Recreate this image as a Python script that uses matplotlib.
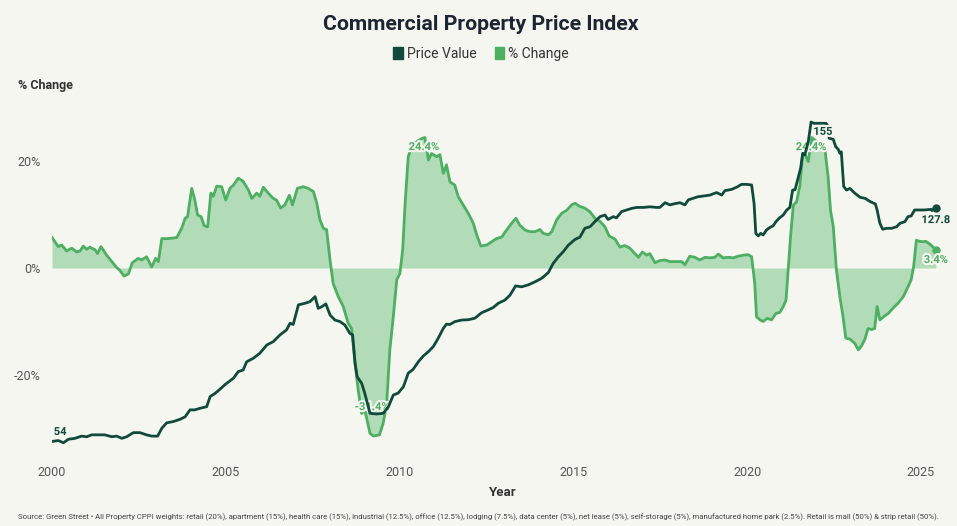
import matplotlib
matplotlib.use("Agg")
import matplotlib.pyplot as plt
import matplotlib.patheffects as pe
from matplotlib.patches import Patch

# % change, year-over-year
pct_years = [2000.00, 2000.18, 2000.28, 2000.42, 2000.57, 2000.71, 2000.81, 2000.90, 2001.00, 2001.09,
             2001.24, 2001.31, 2001.41, 2001.57, 2001.72, 2001.86, 2001.96, 2002.07, 2002.20, 2002.31,
             2002.48, 2002.58, 2002.72, 2002.87, 2002.98, 2003.06, 2003.16, 2003.35, 2003.59, 2003.73,
             2003.83, 2003.90, 2004.02, 2004.11, 2004.19, 2004.29, 2004.38, 2004.48, 2004.57, 2004.64,
             2004.74, 2004.88, 2005.00, 2005.12, 2005.22, 2005.36, 2005.50, 2005.65, 2005.75, 2005.89,
             2005.98, 2006.08, 2006.22, 2006.37, 2006.46, 2006.58, 2006.70, 2006.83, 2006.92, 2007.06,
             2007.23, 2007.37, 2007.52, 2007.62, 2007.71, 2007.81, 2007.90, 2008.00, 2008.09, 2008.24,
             2008.38, 2008.52, 2008.62, 2008.72, 2008.81, 2008.91, 2009.00, 2009.15, 2009.24, 2009.42,
             2009.53, 2009.63, 2009.72, 2009.82, 2009.92, 2010.01, 2010.09, 2010.16, 2010.25, 2010.35,
             2010.49, 2010.64, 2010.73, 2010.83, 2010.92, 2011.07, 2011.16, 2011.26, 2011.35, 2011.45,
             2011.59, 2011.69, 2011.83, 2011.98, 2012.12, 2012.22, 2012.34, 2012.51, 2012.65, 2012.79,
             2012.94, 2013.08, 2013.23, 2013.35, 2013.46, 2013.61, 2013.75, 2013.90, 2014.04, 2014.13,
             2014.28, 2014.38, 2014.52, 2014.66, 2014.81, 2014.95, 2015.05, 2015.19, 2015.33, 2015.48,
             2015.62, 2015.77, 2015.91, 2016.03, 2016.20, 2016.34, 2016.48, 2016.63, 2016.77, 2016.87,
             2016.99, 2017.11, 2017.20, 2017.35, 2017.49, 2017.64, 2017.78, 2017.97, 2018.12, 2018.21,
             2018.35, 2018.50, 2018.64, 2018.79, 2018.93, 2019.07, 2019.17, 2019.31, 2019.46, 2019.60,
             2019.74, 2019.89, 2020.03, 2020.13, 2020.22, 2020.27, 2020.37, 2020.46, 2020.58, 2020.70,
             2020.83, 2020.94, 2021.04, 2021.12, 2021.18, 2021.25, 2021.33, 2021.42, 2021.52, 2021.60,
             2021.67, 2021.76, 2021.86, 2021.95, 2022.09, 2022.24, 2022.33, 2022.40, 2022.48, 2022.57,
             2022.67, 2022.76, 2022.84, 2022.96, 2023.10, 2023.20, 2023.29, 2023.39, 2023.48, 2023.58,
             2023.67, 2023.74, 2023.82, 2023.93, 2024.06, 2024.20, 2024.34, 2024.49, 2024.63, 2024.72,
             2024.79, 2024.87, 2024.96, 2025.06, 2025.14, 2025.29, 2025.43]
pct_values = [5.7, 4.0, 4.3, 3.2, 3.7, 3.0, 3.2, 4.1, 3.5, 3.9,
              3.4, 2.7, 4.0, 2.4, 1.2, 0.1, -0.5, -1.5, -1.1, 1.0,
              1.8, 1.5, 2.1, 0.2, 1.8, 1.2, 5.5, 5.5, 5.7, 7.4,
              9.3, 9.6, 14.9, 12.7, 9.9, 9.6, 7.9, 7.7, 14.0, 13.4,
              15.3, 15.2, 12.7, 14.9, 15.5, 16.8, 16.2, 14.6, 13.0, 14.0,
              13.4, 15.1, 14.0, 13.0, 12.7, 11.2, 11.8, 13.6, 11.8, 14.9,
              15.2, 14.9, 14.3, 12.1, 9.0, 7.4, 7.2, 1.5, -2.9, -5.4,
              -7.2, -10.3, -11.3, -17.8, -22.8, -27.2, -26.5, -30.9, -31.4, -31.2,
              -29.0, -25.3, -15.3, -9.1, -2.2, -1.0, 3.4, 12.1, 20.8, 22.7,
              23.6, 24.2, 24.4, 20.2, 21.4, 20.8, 21.2, 17.7, 19.3, 16.1,
              15.5, 13.3, 11.8, 10.2, 8.4, 6.2, 4.1, 4.3, 4.9, 5.5,
              5.8, 7.1, 8.4, 9.3, 8.0, 7.1, 6.8, 6.8, 7.2, 6.5,
              6.2, 6.8, 9.0, 10.2, 10.8, 11.8, 12.1, 11.5, 11.2, 10.5,
              9.3, 8.7, 7.7, 6.0, 5.4, 3.9, 4.2, 3.7, 2.7, 2.0,
              3.0, 2.4, 2.7, 1.0, 1.4, 1.5, 1.2, 1.2, 1.2, 0.6,
              2.2, 2.0, 1.5, 2.0, 1.9, 2.0, 2.6, 1.9, 2.0, 1.9,
              2.2, 2.4, 2.5, 2.1, -2.9, -9.1, -9.7, -10.0, -9.4, -9.7,
              -8.5, -8.3, -7.2, -6.0, -0.4, 5.9, 11.8, 12.3, 15.5, 21.4,
              21.2, 19.9, 24.4, 23.9, 23.0, 22.1, 17.1, 10.8, 7.7, -0.4,
              -5.4, -9.1, -13.1, -13.3, -14.1, -15.3, -14.6, -13.3, -11.3, -11.5,
              -11.3, -7.2, -9.7, -9.1, -8.5, -7.5, -6.6, -5.4, -3.5, -2.2,
              0.2, 5.2, 5.0, 4.9, 5.0, 4.3, 3.4]

# price index value
price_years = [2000.00, 2000.18, 2000.33, 2000.47, 2000.66, 2000.85, 2001.00, 2001.14, 2001.33, 2001.52,
               2001.72, 2001.86, 2002.01, 2002.15, 2002.34, 2002.53, 2002.72, 2002.87, 2003.04, 2003.16,
               2003.30, 2003.49, 2003.68, 2003.83, 2003.97, 2004.11, 2004.26, 2004.45, 2004.55, 2004.69,
               2004.83, 2004.98, 2005.22, 2005.36, 2005.50, 2005.60, 2005.79, 2005.98, 2006.18, 2006.37,
               2006.56, 2006.75, 2006.85, 2006.94, 2007.09, 2007.28, 2007.42, 2007.57, 2007.66, 2007.76,
               2007.88, 2008.00, 2008.14, 2008.29, 2008.43, 2008.57, 2008.65, 2008.72, 2008.78, 2008.91,
               2009.00, 2009.15, 2009.34, 2009.53, 2009.68, 2009.82, 2009.96, 2010.11, 2010.25, 2010.39,
               2010.54, 2010.68, 2010.83, 2010.97, 2011.11, 2011.26, 2011.35, 2011.45, 2011.59, 2011.79,
               2011.98, 2012.17, 2012.36, 2012.55, 2012.70, 2012.84, 2013.03, 2013.18, 2013.34, 2013.51,
               2013.70, 2013.90, 2014.09, 2014.28, 2014.42, 2014.57, 2014.71, 2014.85, 2015.05, 2015.19,
               2015.33, 2015.48, 2015.62, 2015.77, 2015.91, 2016.00, 2016.15, 2016.24, 2016.39, 2016.53,
               2016.68, 2016.82, 2017.01, 2017.20, 2017.40, 2017.49, 2017.64, 2017.78, 2017.92, 2018.07,
               2018.21, 2018.31, 2018.45, 2018.59, 2018.74, 2018.93, 2019.12, 2019.27, 2019.36, 2019.55,
               2019.70, 2019.84, 2019.98, 2020.13, 2020.20, 2020.25, 2020.32, 2020.39, 2020.46, 2020.56,
               2020.66, 2020.75, 2020.83, 2020.92, 2021.04, 2021.14, 2021.23, 2021.31, 2021.38, 2021.44,
               2021.54, 2021.60, 2021.66, 2021.76, 2021.84, 2021.92, 2022.09, 2022.27, 2022.33, 2022.36,
               2022.48, 2022.55, 2022.62, 2022.67, 2022.71, 2022.78, 2022.86, 2022.96, 2023.10, 2023.25,
               2023.39, 2023.55, 2023.69, 2023.74, 2023.82, 2023.90, 2024.01, 2024.16, 2024.30, 2024.40,
               2024.54, 2024.63, 2024.72, 2024.82, 2024.97, 2025.11, 2025.29, 2025.32, 2025.43]
price_values = [54.0, 54.3, 53.6, 54.7, 55.0, 55.7, 55.5, 56.1, 56.1, 56.1,
                55.5, 55.7, 55.0, 55.5, 56.8, 56.8, 56.1, 55.7, 55.7, 58.2,
                59.9, 60.3, 61.0, 61.8, 64.0, 64.0, 64.5, 65.0, 68.2, 69.2,
                70.5, 72.0, 74.0, 76.1, 76.6, 79.2, 80.3, 81.9, 84.5, 85.6,
                87.7, 89.3, 91.4, 91.0, 97.2, 97.7, 98.2, 99.8, 96.1, 96.6,
                97.5, 94.0, 92.4, 91.9, 90.8, 88.2, 87.7, 78.7, 74.5, 72.4,
                69.2, 62.9, 62.7, 62.9, 65.0, 68.7, 69.3, 71.3, 75.6, 76.8,
                79.2, 81.0, 82.4, 84.0, 86.6, 89.8, 91.1, 91.0, 91.9, 92.4,
                92.5, 93.0, 94.7, 95.6, 96.4, 97.7, 98.7, 100.3, 103.2, 102.9,
                103.5, 104.5, 105.6, 107.4, 110.3, 112.4, 114.0, 116.0, 117.9, 118.6,
                121.4, 121.9, 123.5, 125.1, 125.6, 124.2, 125.1, 124.7, 126.7, 127.2,
                127.7, 128.0, 128.0, 128.2, 128.0, 128.0, 129.5, 128.8, 129.2, 129.5,
                128.8, 130.4, 130.9, 131.4, 131.6, 131.9, 132.7, 131.9, 133.3, 133.7,
                134.4, 135.3, 135.3, 135.1, 129.3, 119.8, 119.0, 119.8, 119.3, 120.9,
                121.7, 122.2, 123.5, 124.6, 125.6, 127.2, 128.0, 133.5, 133.6, 136.1,
                140.4, 145.1, 144.6, 148.8, 155.0, 154.6, 154.6, 154.6, 153.7, 149.9,
                149.5, 147.2, 146.4, 145.1, 145.6, 134.6, 133.5, 134.0, 132.5, 131.2,
                130.9, 129.8, 129.1, 127.2, 123.0, 121.1, 121.4, 121.4, 121.9, 123.0,
                123.5, 125.1, 125.3, 127.2, 127.2, 127.2, 127.4, 127.0, 127.8]

pct_ticks = [-20, 0, 20]
year_ticks = [2000, 2005, 2010, 2015, 2020, 2025]

bg = "#f6f6f0"
dark = "#0f4a3c"
green = "#4caf62"
fill_c = "#b2dbb7"
font = "Roboto"

fig = plt.figure(figsize=(9.57, 5.26), dpi=100, facecolor=bg)
W, H = 957, 526
x0, x1, y_top, y_bot = 52, 940, 95, 455
ax = fig.add_axes([x0 / W, 1 - y_bot / H, (x1 - x0) / W, (y_bot - y_top) / H])
ax.set_facecolor(bg)

ax.fill_between(pct_years, pct_values, 0, color=fill_c, lw=0)
ax.plot(pct_years, pct_values, color=green, lw=2, solid_joinstyle="round")
ax.set_ylim(-34.95, 32.34)
ax.set_xlim(2000, 2025.55)
ax.set_yticks(pct_ticks)
ax.set_yticklabels([f"{t}%" for t in pct_ticks])
ax.set_xticks(year_ticks)
ax.tick_params(length=0, labelsize=9, colors="#555555", pad=8)
for lab in ax.get_xticklabels() + ax.get_yticklabels():
    lab.set_fontfamily(font)
for s in ax.spines.values():
    s.set_visible(False)

ax2 = ax.twinx()
ax2.plot(price_years, price_values, color=dark, lw=2, solid_joinstyle="round")
ax2.set_ylim(49.73, 163.55)
ax2.set_yticks([])
for s in ax2.spines.values():
    s.set_visible(False)

halo = [pe.withStroke(linewidth=3, foreground=bg)]
ax2.plot(price_years[-1], price_values[-1], "o", color=dark, ms=5)
ax.plot(pct_years[-1], pct_values[-1], "o", color=green, ms=5)

ax2.text(2000.05, 57.0, "54", color=dark, fontsize=8, fontweight="bold", family=font,
         ha="left", va="center", path_effects=halo)
ax2.text(2022.18, 151.9, "155", color=dark, fontsize=8, fontweight="bold", family=font,
         ha="center", va="center", path_effects=halo)
ax2.text(2025.43, 124.0, "127.8", color=dark, fontsize=8, fontweight="bold", family=font,
         ha="center", va="center", path_effects=halo)
ax.text(2010.7, 22.6, "24.4%", color=green, fontsize=8, fontweight="bold", family=font,
        ha="center", va="center", path_effects=halo)
ax.text(2021.84, 22.6, "24.4%", color=green, fontsize=8, fontweight="bold", family=font,
        ha="center", va="center", path_effects=halo)
ax.text(2009.21, -26.0, "-31.4%", color=green, fontsize=8, fontweight="bold", family=font,
        ha="center", va="center", path_effects=halo)
ax.text(2025.43, 1.5, "3.4%", color=green, fontsize=8, fontweight="bold", family=font,
        ha="center", va="center", path_effects=halo)

fig.text(481 / W, 1 - 25 / H, "Commercial Property Price Index", ha="center", va="center",
         fontsize=15.3, fontweight="bold", family=font, color="#1d2533")
handles = [Patch(color=dark, label="Price Value"), Patch(color=green, label="% Change")]
leg = fig.legend(handles=handles, loc="center", bbox_to_anchor=(481 / W, 1 - 54 / H), ncol=2,
                 frameon=False, handlelength=0.7, handleheight=1.0, handletextpad=0.3,
                 columnspacing=1.3, prop={"family": font, "size": 10})
for t in leg.get_texts():
    t.set_color("#333333")
fig.text(18 / W, 1 - 85 / H, "% Change", ha="left", va="center", fontsize=9,
         fontweight="bold", family=font, color="#333333")
fig.text(503 / W, 1 - 493 / H, "Year", ha="center", va="center", fontsize=9.5,
         fontweight="bold", family=font, color="#333333")
source = ("Source: Green Street \u2022 All Property CPPI weights: retail (20%), apartment (15%), "
          "health care (15%), industrial (12.5%), office (12.5%), lodging (7.5%), data center (5%), "
          "net lease (5%), self-storage (5%), manufactured home park (2.5%). "
          "Retail is mall (50%) & strip retail (50%).")
fig.text(18 / W, 1 - 517 / H, source, ha="left", va="center", fontsize=5.55,
         family=font, color="#444444")

fig.savefig("out.png", dpi=100, facecolor=bg)
